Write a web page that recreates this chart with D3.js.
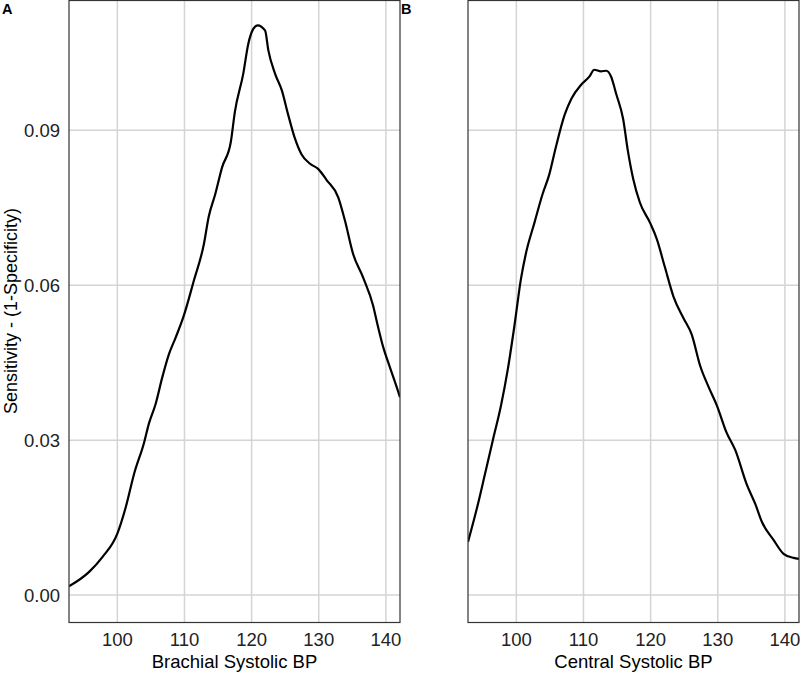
<!DOCTYPE html>
<html>
<head>
<meta charset="utf-8">
<script src="https://cdnjs.cloudflare.com/ajax/libs/d3/7.8.5/d3.min.js"></script>
<style>
  body { margin: 0; background: #fff; }
  text { font-family: "Liberation Sans", Arial, sans-serif; }
</style>
</head>
<body>
<div id="container"></div>
<script>
var WIDTH = 800;
var HEIGHT = 673;

// panel A: brachial, panel B: central
const brachialX = [92.8, 95.8, 97.8, 100, 101.25, 102.5, 104, 104.7, 105.7, 106.7, 107.7, 108.7, 109.9,
  111.4, 112.9, 113.6, 114.6, 115.6, 116.9, 117.5, 118.75, 119.5, 120.25, 120.9, 122.0, 122.5, 123.5,
  124.5, 125.4, 126.4, 127.4, 128.7, 129.9, 131.2, 132.9, 133.9, 135.1, 136.6, 138.1, 138.6, 139.6,
  140.6, 141.6, 142.1];
const brachialY = [0.0017, 0.0045, 0.0074, 0.0119, 0.0170, 0.0235, 0.0296, 0.0332, 0.0370, 0.0422, 0.0467,
  0.0499, 0.0541, 0.0609, 0.0680, 0.0732, 0.0777, 0.0828, 0.0877, 0.0935, 0.1009, 0.1067, 0.1096, 0.1103,
  0.1093, 0.1054, 0.1009, 0.0977, 0.0932, 0.0886, 0.0854, 0.0835, 0.0825, 0.0803, 0.0770, 0.0725, 0.0661,
  0.0615, 0.0560, 0.0532, 0.0480, 0.0441, 0.0403, 0.0383];

const centralX = [92.8, 94.2, 95.2, 96.5, 97.7, 98.7, 99.7, 100.7, 101.4, 102.7, 103.9, 104.9, 105.9,
  107.2, 108.2, 109.65, 110.9, 111.6, 112.6, 113.4, 114.1, 114.9, 115.9, 116.6, 117.4, 118.4, 119.9,
  120.9, 122.1, 123.4, 124.9, 126.1, 127.4, 128.6, 129.9, 131.3, 132.6, 134.3, 135.6, 136.6, 138.3,
  139.8, 141.3, 142.1];
const centralY = [0.0103, 0.0172, 0.0227, 0.0300, 0.0366, 0.0435, 0.0520, 0.0613, 0.0660, 0.0721, 0.0776,
  0.0814, 0.0868, 0.0930, 0.0961, 0.0988, 0.1004, 0.1017, 0.1014, 0.1015, 0.1004, 0.0969, 0.0922, 0.0861,
  0.0806, 0.0760, 0.0721, 0.0690, 0.0636, 0.0578, 0.0536, 0.0505, 0.0443, 0.0404, 0.0366, 0.0315, 0.0281,
  0.0215, 0.0176, 0.0141, 0.0107, 0.0080, 0.0072, 0.0070];

const xTicks = [100, 110, 120, 130, 140];
const yTicks = [0.00, 0.03, 0.06, 0.09];

const panels = [
  { tag: 'A', title: 'Brachial Systolic BP', xs: brachialX, ys: brachialY, left: 69 },
  { tag: 'B', title: 'Central Systolic BP', xs: centralX, ys: centralY, left: 468 }
];

const PW = 331;
const PH = 622;

const svg = d3.select('#container')
  .append('svg')
    .attr('width', WIDTH)
    .attr('height', HEIGHT);

const x = d3.scaleLinear().domain([92.8, 142.1]).range([0, PW]);
const y = d3.scaleLinear().domain([-0.0053, 0.1151]).range([PH, 0]);

const line = d3.line()
  .x(d => x(d[0]))
  .y(d => y(d[1]))
  .curve(d3.curveMonotoneX);

panels.forEach((p, i) => {
  const g = svg.append('g')
    .attr('transform', `translate(${p.left}, 0.5)`);

  svg.append('clipPath')
    .attr('id', 'clip' + i)
    .append('rect')
      .attr('width', PW)
      .attr('height', PH);

  // grid
  g.selectAll('.vgrid')
    .data(xTicks)
    .enter()
    .append('line')
      .attr('x1', d => x(d)).attr('x2', d => x(d))
      .attr('y1', 0).attr('y2', PH)
      .attr('stroke', '#d4d4d4')
      .attr('stroke-width', 1.5);

  g.selectAll('.hgrid')
    .data(yTicks)
    .enter()
    .append('line')
      .attr('x1', 0).attr('x2', PW)
      .attr('y1', d => y(d)).attr('y2', d => y(d))
      .attr('stroke', '#d4d4d4')
      .attr('stroke-width', 1.5);

  // curve
  g.append('path')
    .datum(p.xs.map((v, k) => [v, p.ys[k]]))
    .attr('clip-path', `url(#clip${i})`)
    .attr('fill', 'none')
    .attr('stroke', '#000')
    .attr('stroke-width', 2.2)
    .attr('stroke-linejoin', 'round')
    .attr('d', line);

  // frame
  g.append('rect')
    .attr('width', PW)
    .attr('height', PH)
    .attr('fill', 'none')
    .attr('stroke', '#333')
    .attr('stroke-width', 1.2);

  // x tick labels
  g.selectAll('.xlab')
    .data(xTicks)
    .enter()
    .append('text')
      .attr('x', d => x(d))
      .attr('y', 645)
      .attr('text-anchor', 'middle')
      .style('font-size', '18.5px')
      .attr('fill', '#222')
      .text(d => d);

  g.append('text')
    .attr('x', PW / 2)
    .attr('y', 667)
    .attr('text-anchor', 'middle')
    .style('font-size', '18.5px')
    .attr('fill', '#000')
    .text(p.title);

  // panel tag
  svg.append('text')
    .attr('x', p.left - 67)
    .attr('y', 14)
    .style('font-size', '14.5px')
    .style('font-weight', 'bold')
    .text(p.tag);
});

// y axis labels, left panel only
svg.selectAll('.ylab')
  .data(yTicks)
  .enter()
  .append('text')
    .attr('x', 60)
    .attr('y', d => y(d) + 0.5)
    .attr('dy', '0.35em')
    .attr('text-anchor', 'end')
    .style('font-size', '18.5px')
    .attr('fill', '#222')
    .text(d => d3.format('.2f')(d));

svg.append('text')
  .attr('transform', `translate(16.5, ${PH / 2}) rotate(-90)`)
  .attr('text-anchor', 'middle')
  .style('font-size', '18px')
  .text('Sensitivity - (1-Specificity)');
</script>
</body>
</html>
